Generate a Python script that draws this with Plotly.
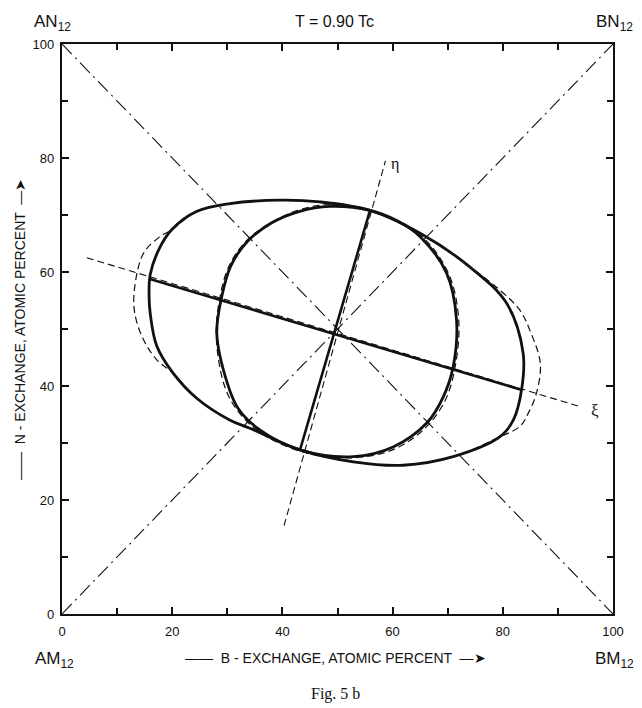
import plotly.graph_objects as go

# ---- canvas / frame geometry (pixels) ----
W, H = 642, 708
ML, MR, MT, MB = 62, 29, 44, 94
PW, PH = W - ML - MR, H - MT - MB

# ---- composition diagonals (dash-dot) ----
diag1_x = [0, 100]
diag1_y = [0, 100]
diag2_x = [0, 100]
diag2_y = [100, 0]

# ---- principal axes (thin dashed) ----
xi_x = [4.5, 94.3]
xi_y = [62.5, 36.3]
eta_x = [40.3, 58.7]
eta_y = [15.5, 79.5]

# ---- outer miscibility boundary (heavy) ----
outer_x = [19.9, 24.4, 30.5, 39.6, 46.8, 55.9, 65.0, 74.0, 80.7, 83.7, 83.4, 81.9,
           79.5, 71.0, 61.9, 52.9, 43.2, 34.1, 30.5, 24.5, 20.2, 17.2, 16.0, 15.8, 16.0, 17.5, 19.9]
outer_y = [67.4, 70.6, 72.0, 72.6, 72.3, 70.8, 66.8, 60.9, 54.5, 45.7, 39.3, 34.0,
           31.1, 27.6, 26.1, 26.7, 28.8, 32.6, 34.0, 37.8, 42.2, 47.0, 52.8, 56.0, 59.5, 63.8, 67.4]

# ---- inner loop (heavy) ----
inner_x = [48.6, 55.9, 61.0, 65.0, 69.8, 71.6, 71.0, 69.2, 66.2, 60.1, 52.9, 43.2,
           35.9, 32.0, 30.0, 28.1, 29.0, 30.6, 33.6, 38.0, 43.0, 48.6]
inner_y = [71.5, 70.8, 68.9, 66.2, 59.8, 51.6, 43.4, 38.1, 33.5, 29.3, 27.6, 28.8,
           32.3, 36.0, 40.5, 49.2, 55.7, 61.0, 65.3, 68.6, 70.6, 71.5]

# ---- fitted ellipses (thin dashed) ----
outer_fit_x = [19.9, 24.4, 30.5, 39.6, 46.8, 55.9, 65.0, 74.0, 79.5, 83.1, 84.9, 86.8,
               86.1, 84.6, 83.1, 79.5, 71.0, 61.9, 52.9, 43.2, 34.1, 30.5, 24.5, 20.2,
               17.2, 14.8, 13.2, 13.2, 14.8, 17.5, 19.9]
outer_fit_y = [67.4, 70.6, 72.0, 72.6, 72.3, 70.8, 66.8, 60.9, 56.8, 53.3, 49.8, 44.0,
               38.7, 35.2, 32.9, 31.1, 27.6, 26.1, 26.7, 28.8, 32.6, 34.0, 37.8, 42.2,
               44.6, 48.1, 52.8, 57.4, 63.3, 66.0, 67.4]
inner_fit_x = [48.0, 55.5, 61.5, 66.0, 70.3, 72.0, 71.4, 69.6, 66.0, 60.0, 52.5, 44.5,
               36.5, 32.0, 29.5, 28.0, 28.6, 30.2, 33.2, 37.8, 42.8, 48.0]
inner_fit_y = [71.8, 71.0, 68.6, 65.6, 59.4, 51.6, 43.6, 37.6, 32.7, 28.8, 27.4, 28.2,
               31.5, 35.5, 40.0, 48.6, 55.2, 60.8, 65.2, 68.6, 70.8, 71.8]

# ---- axis ticks ----
tick_vals = [0, 20, 40, 60, 80, 100]
tick_text = ["0", "20", "40", "60", "80", "100"]

INK = "#111111"
SANS = "Liberation Sans, Arial, sans-serif"
SERIF = "Liberation Serif, Times New Roman, serif"

fig = go.Figure()


def add_line(xs, ys, width, dash="solid", spline=False):
    fig.add_trace(go.Scatter(
        x=xs, y=ys, mode="lines",
        line=dict(color=INK, width=width, dash=dash,
                  shape="spline" if spline else "linear", smoothing=1.0),
        hoverinfo="skip", showlegend=False))


add_line(diag1_x, diag1_y, 1.1, "14px,5px,2px,5px")
add_line(diag2_x, diag2_y, 1.1, "14px,5px,2px,5px")
add_line(xi_x, xi_y, 1.1, "7px,4px")
add_line(eta_x, eta_y, 1.1, "7px,4px")
add_line(outer_fit_x, outer_fit_y, 1.2, "7px,4px", spline=True)
add_line(inner_fit_x, inner_fit_y, 1.2, "7px,4px", spline=True)
add_line(outer_x, outer_y, 2.8, spline=True)
add_line(inner_x, inner_y, 2.8, spline=True)

# heavy chords along the principal axes
add_line([outer_x[23], outer_x[9] - 0.2], [outer_y[23] + 2.8, outer_y[10]], 2.6)
add_line([inner_x[11], inner_x[1]], [inner_y[11], inner_y[1]], 2.6)

axis_common = dict(
    range=[0, 100], showgrid=False, zeroline=False,
    showline=True, linecolor=INK, linewidth=2.4, mirror="ticks",
    ticks="inside", ticklen=7, tickwidth=1.6, tickcolor=INK,
    tickvals=tick_vals, ticktext=tick_text,
    minor=dict(ticks="inside", ticklen=6, tickwidth=1.6, tickcolor=INK, dtick=10),
    tickfont=dict(family=SANS, size=13, color=INK),
    fixedrange=True,
)
fig.update_xaxes(**axis_common, ticklabelstandoff=4)
fig.update_yaxes(**axis_common, ticklabelstandoff=3)


def px_to_paper(px, py):
    return (px - ML) / PW, (H - MB - py) / PH


def label(text, px, py, size=16, family=SANS, angle=0, xanchor="center"):
    xp, yp = px_to_paper(px, py)
    fig.add_annotation(text=text, x=xp, y=yp, xref="paper", yref="paper",
                       showarrow=False, xanchor=xanchor, yanchor="middle",
                       textangle=angle,
                       font=dict(family=family, size=size, color=INK))


label("AN<sub>12</sub>", 52, 23, size=17)
label("BN<sub>12</sub>", 614, 23, size=17)
label("AM<sub>12</sub>", 54, 660, size=17)
label("BM<sub>12</sub>", 614, 660, size=17)
label("T = 0.90 Tc", 334, 21, size=16)
label("——  B - EXCHANGE, ATOMIC PERCENT  —➤", 335, 658, size=14)
label("——  N - EXCHANGE, ATOMIC PERCENT  —➤", 20, 330, size=14, angle=-90)
label("Fig. 5 b", 335, 694, size=16, family=SERIF)

# axis-end Greek labels
fig.add_annotation(text="ξ", x=xi_x[1] + 1.3, y=xi_y[1] - 0.6, xref="x", yref="y",
                   showarrow=False, xanchor="left", yanchor="middle",
                   font=dict(family=SERIF, size=17, color=INK))
fig.add_annotation(text="η", x=eta_x[1] + 0.6, y=eta_y[1] - 0.5, xref="x", yref="y",
                   showarrow=False, xanchor="left", yanchor="middle",
                   font=dict(family=SERIF, size=16, color=INK))

fig.update_layout(
    width=W, height=H,
    margin=dict(l=ML, r=MR, t=MT, b=MB),
    paper_bgcolor="white", plot_bgcolor="white",
    showlegend=False,
)

fig.write_html("out.html")
